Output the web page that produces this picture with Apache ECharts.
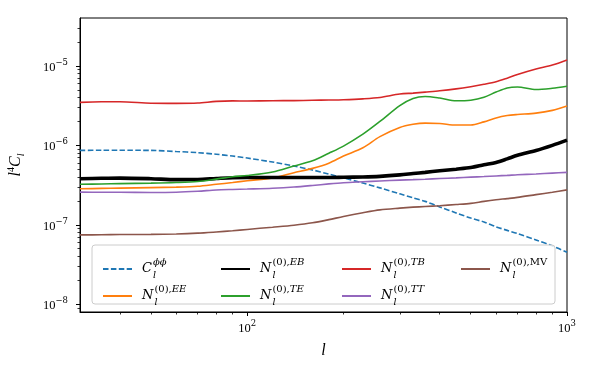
<!DOCTYPE html>
<html><head><meta charset="utf-8">
<script src="https://cdn.jsdelivr.net/npm/echarts@6/dist/echarts.min.js"></script>
<style>html,body{margin:0;padding:0;background:#fff}#c{width:590px;height:371px}</style>
</head><body><div id="c"></div><script>
// multipole l
const ell = [30, 35, 40, 50, 60, 70, 80, 90, 100, 120, 140, 160, 180, 200, 230, 260, 300, 330, 360, 400, 450, 500, 550, 600, 650, 700, 800, 900, 1000];
// log10(l^4 C_l)
const log10_Cphiphi = [-6.064, -6.062, -6.062, -6.064, -6.078, -6.092, -6.112, -6.135, -6.160, -6.210, -6.260, -6.310, -6.362, -6.410, -6.475, -6.535, -6.610, -6.660, -6.705, -6.775, -6.850, -6.915, -6.965, -7.025, -7.070, -7.110, -7.190, -7.265, -7.346];
const log10_N_EE = [-6.547, -6.542, -6.538, -6.532, -6.526, -6.515, -6.490, -6.468, -6.445, -6.410, -6.345, -6.290, -6.225, -6.135, -6.030, -5.890, -5.775, -5.735, -5.720, -5.725, -5.745, -5.745, -5.705, -5.655, -5.625, -5.612, -5.595, -5.560, -5.505];
const log10_N_EB = [-6.421, -6.415, -6.412, -6.420, -6.432, -6.430, -6.418, -6.408, -6.405, -6.405, -6.405, -6.405, -6.405, -6.402, -6.398, -6.390, -6.372, -6.355, -6.340, -6.320, -6.300, -6.280, -6.245, -6.215, -6.170, -6.125, -6.065, -6.000, -5.935];
const log10_N_TE = [-6.490, -6.486, -6.482, -6.476, -6.468, -6.455, -6.425, -6.395, -6.380, -6.335, -6.260, -6.195, -6.100, -6.010, -5.860, -5.700, -5.500, -5.410, -5.385, -5.405, -5.440, -5.432, -5.395, -5.330, -5.278, -5.266, -5.298, -5.282, -5.257];
const log10_N_TB = [-5.459, -5.452, -5.452, -5.470, -5.472, -5.468, -5.447, -5.441, -5.442, -5.439, -5.437, -5.433, -5.430, -5.426, -5.415, -5.398, -5.355, -5.343, -5.330, -5.314, -5.290, -5.262, -5.232, -5.200, -5.155, -5.109, -5.040, -4.990, -4.925];
const log10_N_TT = [-6.589, -6.590, -6.590, -6.593, -6.590, -6.578, -6.562, -6.555, -6.550, -6.540, -6.525, -6.505, -6.485, -6.470, -6.458, -6.448, -6.438, -6.432, -6.426, -6.418, -6.410, -6.400, -6.393, -6.385, -6.378, -6.370, -6.360, -6.350, -6.340];
const log10_N_MV = [-7.127, -7.125, -7.122, -7.120, -7.115, -7.105, -7.090, -7.075, -7.058, -7.030, -7.005, -6.975, -6.935, -6.895, -6.848, -6.812, -6.790, -6.778, -6.770, -6.760, -6.745, -6.730, -6.705, -6.685, -6.670, -6.655, -6.620, -6.590, -6.560];

// axis range and ticks
const xRange = [30, 1000];
const yRange = [8e-9, 4e-5];
const xMajorExps = [2, 3];
const yMajorExps = [-8, -7, -6, -5];
const xTickLabels = ['10^2', '10^3'];
const yTickLabels = ['10^−8', '10^−7', '10^−6', '10^−5'];

const L10 = Math.log10;
const FONT = 'Liberation Serif';
const SUPFONT = 'DejaVu Serif';
const xMin = L10(xRange[0]), xMax = L10(xRange[1]);
const yMin = L10(yRange[0]), yMax = L10(yRange[1]);

const xMinor = [], yMinor = [];
for (let n = 1; n <= 2; n++) for (let k = 2; k <= 9; k++) { const v = L10(k * Math.pow(10, n)); if (v > xMin + 1e-6 && v < xMax - 1e-6) xMinor.push(v); }
for (let n = -9; n <= -5; n++) for (let k = 2; k <= 9; k++) { const v = L10(k * Math.pow(10, n)); if (v > yMin + 1e-6 && v < yMax - 1e-6) yMinor.push(v); }

function tickRich(lbl) { const p = lbl.split('^'); return '{b|' + p[0] + '}{s|' + p[1] + '}'; }
const tickRichStyle = {
  b: { fontFamily: FONT, fontSize: 12.5, color: '#000', lineHeight: 16, verticalAlign: 'bottom' },
  s: { fontFamily: SUPFONT, fontSize: 8.5, color: '#000', lineHeight: 10, verticalAlign: 'top' }
};

const seriesDefs = [
  { name: 'Cphiphi', vals: log10_Cphiphi, color: '#1f77b4', width: 1.6, dash: [5.5, 2.4] },
  { name: 'N_EE', vals: log10_N_EE, color: '#ff7f0e', width: 1.6 },
  { name: 'N_EB', vals: log10_N_EB, color: '#000000', width: 3.6 },
  { name: 'N_TE', vals: log10_N_TE, color: '#2ca02c', width: 1.6 },
  { name: 'N_TB', vals: log10_N_TB, color: '#d62728', width: 1.6 },
  { name: 'N_TT', vals: log10_N_TT, color: '#9467bd', width: 1.6 },
  { name: 'N_MV', vals: log10_N_MV, color: '#8c564b', width: 1.6 }
];

const legendText = {
  'Cphiphi': '{m|C}{sb|l}{sp|ϕϕ}',
  'N_EE': '{m|N}{sb|l}{spu|(0),}{sp|EE}',
  'N_EB': '{m|N}{sb|l}{spu|(0),}{sp|EB}',
  'N_TE': '{m|N}{sb|l}{spu|(0),}{sp|TE}',
  'N_TB': '{m|N}{sb|l}{spu|(0),}{sp|TB}',
  'N_TT': '{m|N}{sb|l}{spu|(0),}{sp|TT}',
  'N_MV': '{m|N}{sb|l}{spu|(0),MV}'
};
const legendRich = {
  m: { fontFamily: SUPFONT, fontStyle: 'italic', fontSize: 13, color: '#000', lineHeight: 24, verticalAlign: 'middle', padding: [0, 1, 0, 5] },
  sb: { fontFamily: SUPFONT, fontStyle: 'italic', fontSize: 9.5, color: '#000', lineHeight: 20, verticalAlign: 'bottom', width: 0 },
  sp: { fontFamily: SUPFONT, fontStyle: 'italic', fontSize: 10, color: '#000', lineHeight: 7, verticalAlign: 'top' },
  spu: { fontFamily: SUPFONT, fontSize: 10, color: '#000', lineHeight: 7, verticalAlign: 'top' }
};
const legendCols = [[97, ['Cphiphi', 'N_EE']], [215, ['N_EB', 'N_TE']], [336, ['N_TB', 'N_TT']], [455, ['N_MV']]];

const option = {
  animation: false,
  backgroundColor: '#fff',
  grid: { left: 80, right: 23, top: 18, bottom: 59, show: true, borderColor: '#000', borderWidth: 1, backgroundColor: 'transparent', outerBoundsMode: 'none', containLabel: false },
  xAxis: [
    { type: 'value', min: xMin, max: xMax, position: 'bottom',
      axisLine: { show: true, lineStyle: { color: '#000', width: 1 } },
      splitLine: { show: false },
      axisTick: { show: true, customValues: xMajorExps, length: 4, lineStyle: { color: '#000', width: 1 } },
      axisLabel: { show: true, customValues: xMajorExps, margin: 7, formatter: v => tickRich(xTickLabels[xMajorExps.indexOf(Math.round(v))]), rich: tickRichStyle },
      name: 'l', nameLocation: 'middle', nameGap: 31, nameTextStyle: { fontFamily: FONT, fontStyle: 'italic', fontSize: 16, color: '#000' } },
    { type: 'value', min: xMin, max: xMax, position: 'bottom', gridIndex: 0,
      axisLine: { show: false }, splitLine: { show: false },
      axisTick: { show: true, customValues: xMinor, length: 2.5, lineStyle: { color: '#000', width: 0.8 } },
      axisLabel: { show: false } }
  ],
  yAxis: [
    { type: 'value', min: yMin, max: yMax, position: 'left',
      axisLine: { show: true, lineStyle: { color: '#000', width: 1 } },
      splitLine: { show: false },
      axisTick: { show: true, customValues: yMajorExps, length: 4, lineStyle: { color: '#000', width: 1 } },
      axisLabel: { show: true, customValues: yMajorExps, margin: 12, formatter: v => tickRich(yTickLabels[yMajorExps.indexOf(Math.round(v))]), rich: tickRichStyle },
      name: '{i|l}{s|4}{i|C}{sb|l}', nameLocation: 'middle', nameGap: 54,
      nameTextStyle: { rich: {
        i: { fontFamily: FONT, fontStyle: 'italic', fontSize: 16, color: '#000', lineHeight: 20, verticalAlign: 'middle' },
        s: { fontFamily: FONT, fontSize: 10, color: '#000', lineHeight: 9, verticalAlign: 'top' },
        sb: { fontFamily: FONT, fontStyle: 'italic', fontSize: 10, color: '#000', lineHeight: 14, verticalAlign: 'bottom' } } } },
    { type: 'value', min: yMin, max: yMax, position: 'left', gridIndex: 0,
      axisLine: { show: false }, splitLine: { show: false },
      axisTick: { show: true, customValues: yMinor, length: 2.5, lineStyle: { color: '#000', width: 0.8 } },
      axisLabel: { show: false } }
  ],
  legend: legendCols.map(([left, names]) => ({
    left: left, top: 252, orient: 'vertical', itemWidth: 29, itemHeight: 10, itemGap: 3,
    selectedMode: false, z: 20, data: names,
    itemStyle: { opacity: 0 },
    formatter: n => legendText[n],
    textStyle: { color: '#000', rich: legendRich }
  })),
  graphic: [
    { type: 'rect', z: 10, shape: { x: 92, y: 245, width: 463, height: 59, r: 3 },
      style: { fill: 'rgba(255,255,255,0.8)', stroke: '#cccccc', lineWidth: 1 } }
  ],
  series: seriesDefs.map(s => ({
    name: s.name, type: 'line', xAxisIndex: 0, yAxisIndex: 0,
    data: ell.map((l, i) => [L10(l), s.vals[i]]),
    symbol: 'none', smooth: 0.3, clip: true,
    color: s.color,
    lineStyle: { color: s.color, width: s.width, type: s.dash ? s.dash : 'solid', cap: 'butt' }
  }))
};
const chart = echarts.init(document.getElementById('c'), null, { renderer: 'canvas' });
chart.setOption(option);
</script></body></html>
